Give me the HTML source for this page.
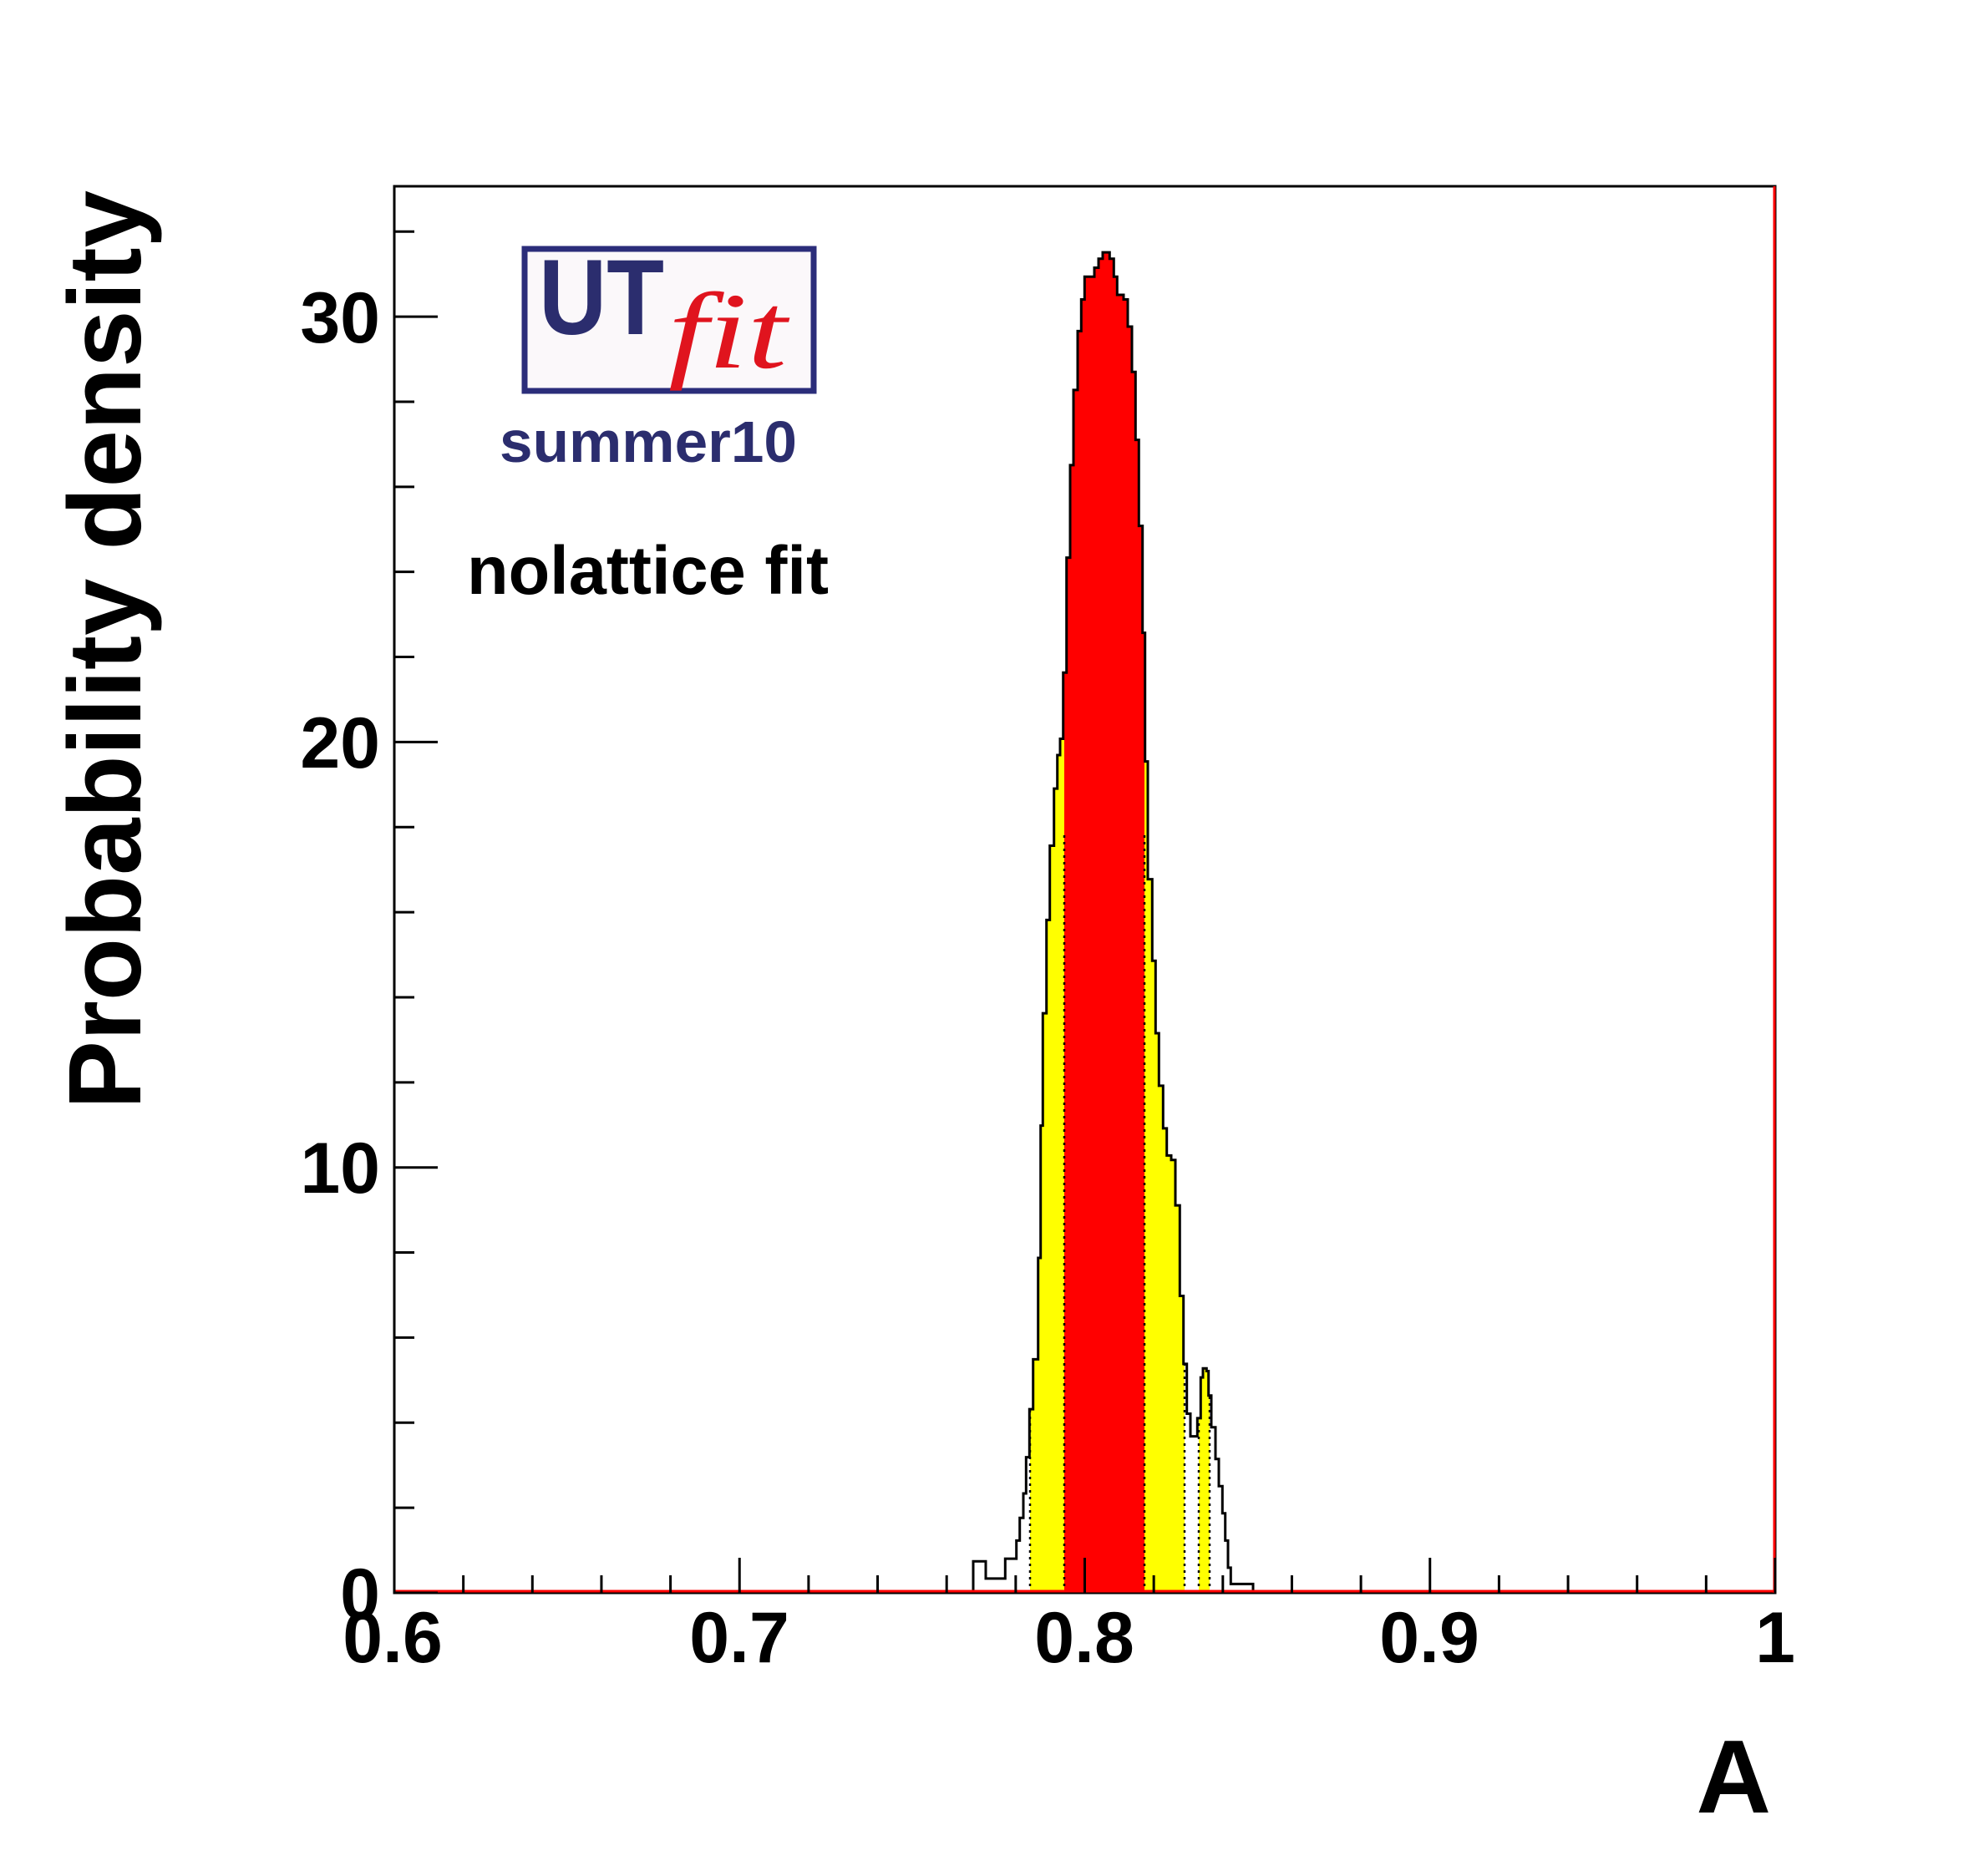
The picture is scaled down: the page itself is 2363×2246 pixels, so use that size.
<!DOCTYPE html>
<html><head><meta charset="utf-8"><style>
html,body{margin:0;padding:0;background:#fff;}
svg{display:block;}
text{font-family:"Liberation Sans",sans-serif;font-weight:bold;}
</style></head><body>
<svg id="s" width="2363" height="2246" viewBox="0 0 2363 2246" xmlns="http://www.w3.org/2000/svg">
<defs>
<clipPath id="cy"><rect x="1233" y="0" width="185" height="1907"/><rect x="1435" y="0" width="13" height="1907"/></clipPath>
<clipPath id="cr"><rect x="1274" y="0" width="96" height="1907"/></clipPath>
</defs>
<g id="hist"></g>
<rect x="472" y="223" width="1653" height="1684" fill="none" stroke="#000" stroke-width="3"/>
<line x1="472" y1="1905" x2="2125" y2="1905" stroke="#f00" stroke-width="3"/>
<line x1="2124" y1="223" x2="2124" y2="1907" stroke="#f00" stroke-width="3"/>
<g id="ticks" stroke="#000" stroke-width="3"></g>
<g font-size="86" text-anchor="end">
<text x="455" y="1938">0</text>
<text x="455" y="1428">10</text>
<text x="455" y="919">20</text>
<text x="455" y="410">30</text>
</g>
<g font-size="86" text-anchor="middle">
<text x="470" y="1990">0.6</text>
<text x="885" y="1990">0.7</text>
<text x="1298" y="1990">0.8</text>
<text x="1711" y="1990">0.9</text>
<text x="2125" y="1990">1</text>
</g>
<text x="2120" y="2170" font-size="124" text-anchor="end">A</text>
<text transform="translate(168,1328) rotate(-90)" font-size="123" textLength="1100" lengthAdjust="spacingAndGlyphs">Probability density</text>
<!-- logo -->
<rect x="628" y="298" width="346" height="170" fill="#fbf8fa" stroke="#2b2d7a" stroke-width="7"/>
<text x="645" y="400" font-size="128" fill="#2b2d6e" textLength="150" lengthAdjust="spacingAndGlyphs">UT</text>
<text x="800" y="440" font-size="130" fill="#e0141e" font-family="Liberation Serif" font-style="italic" font-weight="normal" style="font-family:'Liberation Serif',serif;font-weight:normal" textLength="142" lengthAdjust="spacingAndGlyphs">fit</text>
<text x="598" y="553" font-size="70" fill="#2b2d6e" textLength="356" lengthAdjust="spacingAndGlyphs">summer10</text>
<text x="559" y="711" font-size="82" fill="#000" textLength="433" lengthAdjust="spacingAndGlyphs">nolattice fit</text>
</svg>
<script>
var pts=[[180,1528],[195,1493],[240,1512],[270,1512],[300,1512],[310,1490],[345,1490],[350,1470],[362,1445],[375,1418],[385,1378],[397,1325],[410,1270],[428,1158],[437,1012],[445,888],[458,785],[470,703],[485,640],[497,603],[507,585],[518,512],[530,385],[543,283],[555,200],[570,135],[583,100],[595,75],[630,65],[645,55],[660,48],[685,55],[700,75],[712,95],[735,100],[750,130],[765,180],[778,255],[790,350],[803,468],[812,610],[822,740],[838,830],[850,910],[862,968],[877,1015],[890,1045],[906,1050],[921,1100],[937,1200],[950,1275],[962,1330],[975,1355],[1000,1335],[1012,1290],[1020,1280],[1033,1283],[1040,1310],[1050,1345],[1065,1380],[1077,1410],[1090,1440],[1100,1470],[1110,1500],[1120,1518],[1200,1526],[1220,1528]];
var d="M"+(1100+180/3)+",1907";
var prevY=1907;
for(var i=0;i<pts.length;i++){var x=1100+pts[i][0]/3,y=250+pts[i][1]/0.922;if(y>1907)y=1907;d+=" L"+x.toFixed(1)+","+prevY.toFixed(1)+" L"+x.toFixed(1)+","+y.toFixed(1);prevY=y;}
d+=" L1507,1907 Z";
var h=document.getElementById("hist");
h.innerHTML='<path d="'+d+'" fill="#ff0" clip-path="url(#cy)"/><path d="'+d+'" fill="#f00" clip-path="url(#cr)"/><path d="'+d+'" fill="none" stroke="#000" stroke-width="3"/>';
var ds="";[1233,1274,1370,1418,1435,1448].forEach(function(x){ds+='<line x1="'+x+'" y1="1907" x2="'+x+'" y2="1000" stroke="#000" stroke-width="2.5" stroke-dasharray="3,5" clip-path="url(#ch)"/>';});
h.innerHTML+='<clipPath id="ch"><path d="'+d+'"/></clipPath>'+ds;
var t="";
for(var k=0;k<=20;k++){var x=472+k*1653/20;var L=(k%5==0)?42:21;t+='<line x1="'+x+'" y1="1907" x2="'+x+'" y2="'+(1907-L)+'"/>';}
for(var v=0;v<=32;v+=2){var y=1907-v*50.93;var L=(v%10==0)?52:24;t+='<line x1="472" y1="'+y+'" x2="'+(472+L)+'" y2="'+y+'"/>';}
document.getElementById("ticks").innerHTML=t;
</script>
</body></html>
